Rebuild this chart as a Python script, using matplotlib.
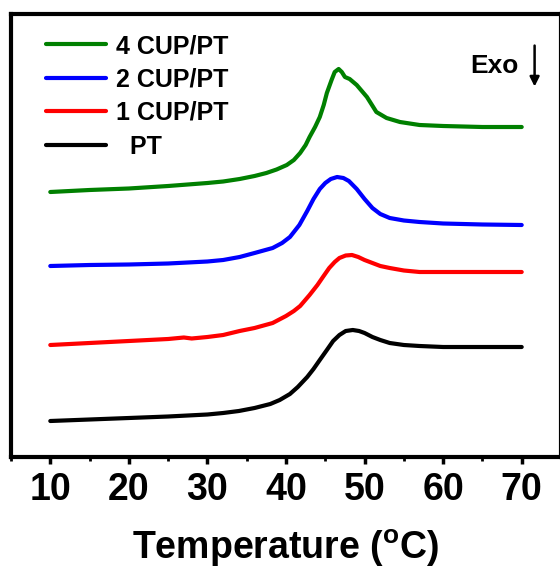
import matplotlib
matplotlib.use('Agg')
import matplotlib.pyplot as plt
from matplotlib.ticker import MultipleLocator

plt.rcParams['font.family'] = ['Liberation Sans', 'DejaVu Sans']

# DSC curves, heat flow in arbitrary units (stacked)
temp_pt = [10, 15, 20, 25, 30, 32, 34, 36, 38, 39.2, 40.5, 41.5, 42.7, 43.5, 44.3, 45.2, 46, 46.8,
           47.6, 48.5, 49.3, 50, 51, 52, 53.2, 55, 57, 60, 65, 70]
flow_pt = [36, 37.5, 39, 40.5, 42.5, 44, 46, 49, 53, 57, 63, 70, 80, 88, 97, 107, 116, 122,
           126, 127, 126, 124, 120, 117, 114, 112, 111, 110, 110, 110]

temp_1cup = [10, 15, 20, 25, 27, 28, 30, 32, 34.1, 36, 38.3, 40, 41, 41.8, 43, 44, 44.7, 45.5, 46.2,
             46.8, 47.6, 48.4, 49.2, 50, 51, 52, 53.2, 55, 57, 60, 65, 70]
flow_1cup = [112, 114, 116, 118, 119.5, 118.5, 120, 122, 126, 129, 134, 141, 146, 151, 162, 172, 180, 189, 195,
             199, 201.5, 202, 200, 197, 194, 191, 189, 186.5, 185, 185, 185, 185]

temp_2cup = [10, 15, 20, 25, 30, 32, 34.1, 36, 38.3, 39.5, 40.5, 41.7, 42.7, 43.5, 44.3, 45, 45.7,
             46.5, 47.3, 48, 49, 50, 51, 52, 53.2, 55, 57, 60, 65, 70]
flow_2cup = [191, 192, 192.5, 193.5, 195.5, 197, 200, 204, 209, 214, 220, 232, 246, 258, 268, 274, 278,
             280, 279, 276, 268, 258, 249, 243, 239, 236.5, 235, 233.5, 232.5, 232]

temp_4cup = [10, 15, 20, 25, 30, 32, 34.1, 36, 37.5, 38.8, 40.1, 41, 41.8, 42.5, 43, 43.7, 44.3, 44.8,
             45.2, 45.8, 46.2, 46.7, 47.1, 47.5, 48.1, 49, 50.3, 51.5, 52.8, 54.5, 57, 60, 65, 70]
flow_4cup = [265, 267, 268.5, 271, 274, 275.5, 278, 281, 284, 287.5, 292, 297, 304, 312, 320, 330, 340, 352,
             364, 377, 385, 388, 385, 380, 378, 372, 360, 345, 339, 335, 332, 331, 330, 330]

series = [
    (temp_4cup, flow_4cup, 'green', '4 CUP/PT'),
    (temp_2cup, flow_2cup, 'blue', '2 CUP/PT'),
    (temp_1cup, flow_1cup, 'red', '1 CUP/PT'),
    (temp_pt, flow_pt, 'black', '  PT'),
]

fig = plt.figure(figsize=(5.6, 5.68), dpi=100)
ax = fig.add_axes([11 / 560, 111 / 568, 550 / 560, 443 / 568])

for t, f, c, lab in series:
    ax.plot(t, f, color=c, lw=3, label=lab, solid_capstyle='round', solid_joinstyle='round')

ax.set_xlim(5, 75)
ax.set_ylim(0, 443)
ax.set_yticks([])
ax.xaxis.set_major_locator(MultipleLocator(10))
ax.xaxis.set_minor_locator(MultipleLocator(5))
ax.set_xticks(range(10, 71, 10))
ax.tick_params(axis='x', which='major', direction='out', length=5, width=2.5,
               labelsize=27, pad=6)
ax.tick_params(axis='x', which='minor', direction='out', length=3, width=2)
for lbl in ax.get_xticklabels():
    lbl.set_fontweight('bold')
for sp in ax.spines.values():
    sp.set_linewidth(3)

ax.set_xlabel('Temperature ($\\mathregular{^{o}}$C)', fontsize=27, fontweight='bold', labelpad=14)

ax.legend(loc='upper left', bbox_to_anchor=(10 / 550, 1 + 5 / 443), frameon=False,
          prop={'weight': 'bold', 'size': 18}, handlelength=2.4,
          handletextpad=0.4, labelspacing=0.38, borderaxespad=0.6)

ax.text(459 / 550, 0.883, 'Exo', transform=ax.transAxes, fontsize=19,
        fontweight='bold', ha='left', va='center')
ax.annotate('', xy=(0.952, 0.83), xytext=(0.952, 0.935), xycoords='axes fraction',
            arrowprops=dict(arrowstyle='-|>', color='black', lw=1.8, mutation_scale=14))

fig.savefig('out.png', dpi=100)
